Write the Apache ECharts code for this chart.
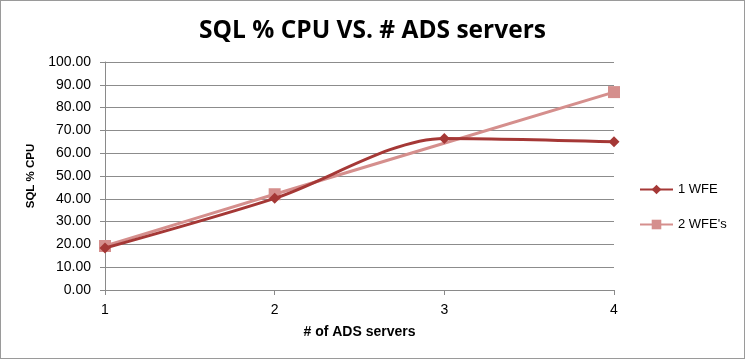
<!DOCTYPE html>
<html><head><meta charset="utf-8">
<script src="https://cdn.jsdelivr.net/npm/echarts@6/dist/echarts.min.js"></script>
<style>html,body{margin:0;padding:0;background:#fff}#c{width:743px;height:357px;border:1px solid #9a9a9a}</style>
</head><body><div id="c"></div>
<script>
const categories = ['1','2','3','4'];
const wfe1 = [18.4, 40.2, 66.5, 65.0];
const wfe2 = [19.3, 42.0, null, 86.8];
const yTicks = {min:0, max:100, interval:10};
const chart = echarts.init(document.getElementById('c'));
const font = 'Liberation Sans';
chart.setOption({
  animation:false,
  title:{text:'SQL % CPU VS. # ADS servers', left:'center', top:13,
    textStyle:{fontFamily:'Open Sans', fontSize:24.5, fontWeight:'bold', color:'#000'}},
  grid:{left:104, right:130, top:61, bottom:68},
  legend:{orient:'vertical', left:633, top:177, itemGap:22, itemWidth:33, itemHeight:12,
    textStyle:{fontFamily:font, fontSize:13, color:'#000'},
    data:['1 WFE',"2 WFE's"]},
  xAxis:{type:'category', data:categories, boundaryGap:false,
    name:'# of ADS servers', nameLocation:'middle', nameGap:35,
    nameTextStyle:{fontFamily:font, fontSize:14, fontWeight:'bold', color:'#000'},
    axisLine:{lineStyle:{color:'#8a8a8a'}},
    axisTick:{alignWithLabel:true, length:5, lineStyle:{color:'#8a8a8a'}},
    axisLabel:{fontFamily:font, fontSize:14, color:'#000', margin:13}},
  yAxis:{type:'value', min:yTicks.min, max:yTicks.max, interval:yTicks.interval,
    name:'SQL % CPU', nameLocation:'middle', nameGap:65,
    nameTextStyle:{fontFamily:font, fontSize:11.5, fontWeight:'bold', color:'#000'},
    axisLine:{show:true, lineStyle:{color:'#8a8a8a'}},
    axisTick:{show:true, length:5, lineStyle:{color:'#8a8a8a'}},
    splitLine:{lineStyle:{color:'#8c8c8c'}},
    axisLabel:{fontFamily:font, fontSize:14, color:'#000', margin:14,
      formatter:v=>v.toFixed(2)}},
  series:[
    {name:'1 WFE', type:'line', data:wfe1, smooth:0.3, symbol:'diamond', symbolSize:11,
      lineStyle:{color:'#A53836', width:3}, itemStyle:{color:'#A53836'}, z:3},
    {name:"2 WFE's", type:'line', data:wfe2, smooth:0.3, connectNulls:true, symbol:'rect', symbolSize:12,
      lineStyle:{color:'#D58F8D', width:3}, itemStyle:{color:'#D58F8D'}, z:2}
  ]
});
</script></body></html>
